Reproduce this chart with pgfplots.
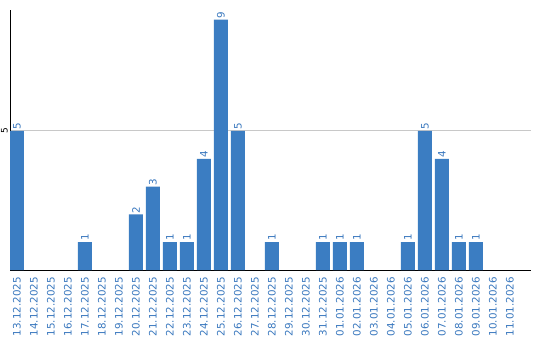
\documentclass[border=0pt]{standalone}
\usepackage{pgfplots}
\pgfplotsset{compat=1.18}
\usepackage{fontspec}
\setmainfont{DejaVu Sans}
\definecolor{barblue}{HTML}{3B7DC2}
\definecolor{lblblue}{HTML}{3A78BE}
\definecolor{gridgray}{HTML}{C8C8C8}
\begin{document}
\begin{tikzpicture}[x=1bp,y=1bp]
\useasboundingbox (0,0) rectangle (540,340);
\begin{axis}[
  scale only axis,
  width=521bp, height=260bp,
  at={(10bp,70bp)}, anchor=south west,
  xmin=-0.41, xmax=30.24,
  ymin=0, ymax=9.35,
  axis x line*=bottom, axis y line*=left,
  axis line style={-, black, line width=1bp},
  xtick={0,...,29},
  xticklabels={13.12.2025,14.12.2025,15.12.2025,16.12.2025,17.12.2025,18.12.2025,19.12.2025,20.12.2025,21.12.2025,22.12.2025,23.12.2025,24.12.2025,25.12.2025,26.12.2025,27.12.2025,28.12.2025,29.12.2025,30.12.2025,31.12.2025,01.01.2026,02.01.2026,03.01.2026,04.01.2026,05.01.2026,06.01.2026,07.01.2026,08.01.2026,09.01.2026,10.01.2026,11.01.2026},
  xticklabel style={yshift=-7bp, rotate=90, anchor=east, text=lblblue, font=\fontsize{10.3bp}{12bp}\selectfont, inner sep=0pt},
  ytick={5},
  yticklabel style={xshift=-2bp, rotate=90, anchor=south, font=\fontsize{9bp}{11bp}\selectfont, inner sep=0pt},
  major tick length=0pt,
  ymajorgrids,
  grid style={gridgray, line width=1bp},
  /pgf/number format/assume math mode=true,
  ]
\addplot[ybar, bar width=14bp, fill=barblue, draw=none,
  nodes near coords,
  nodes near coords style={rotate=90, anchor=west, text=lblblue, font=\fontsize{10.3bp}{12bp}\selectfont, inner sep=1bp},
  ] coordinates {
  (0,5) (4,1) (7,2) (8,3) (9,1) (10,1) (11,4) (12,9) (13,5)
  (15,1) (18,1) (19,1) (20,1) (23,1) (24,5) (25,4) (26,1) (27,1)
};
\end{axis}
\end{tikzpicture}
\end{document}
